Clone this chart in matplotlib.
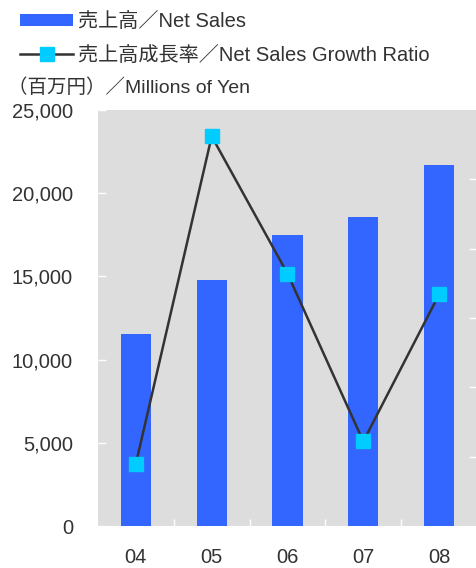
import matplotlib
matplotlib.use("Agg")
import matplotlib.pyplot as plt
from matplotlib.patches import Patch
from matplotlib.lines import Line2D
from matplotlib.ticker import FuncFormatter

plt.rcParams['font.family'] = ['Liberation Sans', 'Noto Sans CJK JP', 'DejaVu Sans']

years = ["04", "05", "06", "07", "08"]
net_sales = [11550, 14800, 17500, 18570, 21700]
growth_ratio = [4.5, 28.1, 18.2, 6.1, 16.7]
sales_ticks = [0, 5000, 10000, 15000, 20000, 25000]
growth_ticks = [5, 10, 15, 20, 25]

bar_color = "#3366FF"
marker_color = "#00CCFF"
line_color = "#333333"
text_color = "#333333"
bg_color = "#DDDDDD"

fig = plt.figure(figsize=(4.77, 5.68), dpi=100)
ax = fig.add_axes([98/477, 42/568, 379/477, 416/568])
ax.set_facecolor(bg_color)
x = list(range(len(years)))
ax.bar(x, net_sales, width=0.4, color=bar_color, zorder=2)
ax.set_xlim(-0.5, len(years) - 0.5)
ax.set_ylim(0, 25000)
ax.set_yticks(sales_ticks)
ax.yaxis.set_major_formatter(FuncFormatter(lambda v, p: f"{int(v):,}"))
ax.tick_params(axis='y', direction='in', length=6, width=1, color='white',
               labelsize=14.5, labelcolor=text_color, pad=18)
ax.set_xticks(x)
ax.set_xticklabels(years)
ax.set_xticks([i + 0.5 for i in x[:-1]], minor=True)
ax.tick_params(axis='x', which='major', length=0, labelsize=14.5, labelcolor=text_color, pad=16)
ax.tick_params(axis='x', which='minor', direction='in', length=5, width=1, color='white')
for s in ax.spines.values():
    s.set_visible(False)

ax2 = ax.twinx()
ax2.plot(x, growth_ratio, color=line_color, lw=1.8, marker='s', markersize=10,
         markerfacecolor=marker_color, markeredgecolor=marker_color, zorder=3)
ax2.set_ylim(0, 30)
ax2.set_yticks(growth_ticks)
ax2.set_yticklabels([])
ax2.tick_params(axis='y', direction='in', length=6, width=1, color='white')
for s in ax2.spines.values():
    s.set_visible(False)

handles = [Patch(facecolor=bar_color, edgecolor='none'),
           Line2D([0], [0], color=line_color, lw=1.8, marker='s', markersize=10,
                  markerfacecolor=marker_color, markeredgecolor=marker_color)]
labels = ["売上高／Net Sales", "売上高成長率／Net Sales Growth Ratio"]
leg = fig.legend(handles, labels, loc='upper left', bbox_to_anchor=(20/477, 1 - 12/568),
                 frameon=False, fontsize=14.5, handlelength=2.65, handleheight=0.6,
                 handletextpad=0.25, labelspacing=0.75, borderaxespad=0, borderpad=0)
for t in leg.get_texts():
    t.set_color(text_color)

fig.text(8/477, 1 - 88/568, "（百万円）／Millions of Yen", fontsize=14, color=text_color,
         va='center', ha='left')

fig.savefig("out.png", dpi=100)
